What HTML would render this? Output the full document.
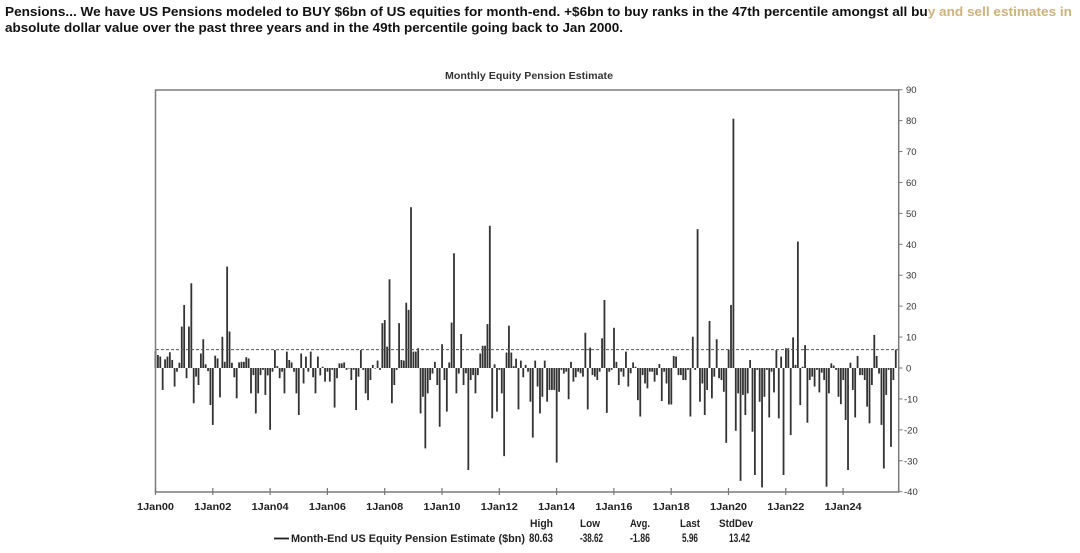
<!DOCTYPE html>
<html><head><meta charset="utf-8"><style>
html,body{margin:0;padding:0;background:#fff;}
svg{display:block;}
text{font-family:"Liberation Sans",Arial,sans-serif;}
</style></head><body>
<svg id="s" width="1080" height="553" viewBox="0 0 1080 553" xmlns="http://www.w3.org/2000/svg">
<rect width="1080" height="553" fill="#fff"/>
<text x="5" y="16" font-size="13" font-weight="bold" fill="#111" textLength="1067" lengthAdjust="spacingAndGlyphs">Pensions... We have US Pensions modeled to BUY $6bn of US equities for month-end. +$6bn to buy ranks in the 47th percentile amongst all bu<tspan fill="#cdb27a">y and sell estimates in</tspan></text>
<text x="5" y="32" font-size="13" font-weight="bold" fill="#111" textLength="618" lengthAdjust="spacingAndGlyphs">absolute dollar value over the past three years and in the 49th percentile going back to Jan 2000.</text>
<text x="445" y="79" font-size="10.5" font-weight="bold" fill="#333" textLength="168" lengthAdjust="spacingAndGlyphs">Monthly Equity Pension Estimate</text>
<g id="bars" fill="#333"></g>
<line x1="156" y1="349.6" x2="898" y2="349.6" stroke="#555" stroke-width="1" stroke-dasharray="3,2"/>
<rect x="155.5" y="90" width="743.2" height="402" fill="none" stroke="#7a7a7a" stroke-width="1.5"/>
<g id="yax" font-size="9.5" fill="#333"></g>
<g id="xax" font-size="10" font-weight="bold" fill="#222"></g>
<g font-size="11" font-weight="bold" fill="#222">
<text x="530" y="527" textLength="23" lengthAdjust="spacingAndGlyphs">High</text>
<text x="580" y="527" textLength="20" lengthAdjust="spacingAndGlyphs">Low</text>
<text x="630" y="527" textLength="20" lengthAdjust="spacingAndGlyphs">Avg.</text>
<text x="680" y="527" textLength="20" lengthAdjust="spacingAndGlyphs">Last</text>
<text x="719" y="527" textLength="34" lengthAdjust="spacingAndGlyphs">StdDev</text>
<line x1="274" y1="538.5" x2="289" y2="538.5" stroke="#222" stroke-width="1.8"/>
<text x="291" y="542" textLength="234" lengthAdjust="spacingAndGlyphs">Month-End US Equity Pension Estimate ($bn)</text>
<text x="529" y="542" font-size="11.5" textLength="24" lengthAdjust="spacingAndGlyphs">80.63</text>
<text x="580" y="542" font-size="11.5" textLength="23" lengthAdjust="spacingAndGlyphs">-38.62</text>
<text x="630" y="542" font-size="11.5" textLength="20" lengthAdjust="spacingAndGlyphs">-1.86</text>
<text x="682" y="542" font-size="11.5" textLength="16" lengthAdjust="spacingAndGlyphs">5.96</text>
<text x="729" y="542" font-size="11.5" textLength="21" lengthAdjust="spacingAndGlyphs">13.42</text>
</g>
</svg>
<script>
(function(){
var NS="http://www.w3.org/2000/svg";
function Y(v){return 368-v*3.092;}
var pts=[
[157.3,4.7],[159,4.2],[160.7,3.7],[162.3,-7.1],[165,2.8],[166.7,3.1],[168.3,3.7],[170,5.1],[172,2.6],[175,-6],[179.3,1.7],[182.3,13.4],[183.7,20.4],[186.7,-3.3],[189.3,13.4],[191.3,27.4],[193.7,-11.4],[196,-2.8],[198.3,-5.5],[200,4.7],[202.3,9.3],[207.3,-1],[210,-12],[212.3,-18.4],[215.3,4],[217,3.1],[219.3,-9.5],[221.7,10.1],[224.7,2],[227,32.8],[229,11.8],[231.3,1.7],[237,-9.8],[241.3,2],[243.3,2],[246,3.5],[248,3.1],[250.7,-8.2],[253.3,-2.3],[255.3,-14.7],[257.3,-8.2],[260,-2.3],[265,-8.7],[270,-20],[272.7,-1.2],[276,5.8],[279.3,-3.3],[284,-8.2],[286.7,5.3],[288.7,2.6],[293.3,-1.2],[295.7,-8.2],[298.3,-15.2],[300.7,4.7],[302.7,-5],[305.3,3.7],[308,5.6],[309.3,-1.2],[311.3,5.3],[314.7,-8.2],[317.3,3.7],[321.7,0.4],[324.3,-4.4],[326.7,-1.2],[329.3,-4.4],[331.7,-0.6],[333.7,-12.8],[336,-3.3],[338.3,3.7],
[340.5,1.5],[342.5,1.5],[346,-0.6],[350.7,-3.9],[352.7,-0.6],[355,-13.6],[357.3,-2.8],[360,5.8],[362.7,-0.6],[365,-6],[366.7,-8.2],[368.7,-10.4],[370,-3.9],[372,9.1],[374,1],[379.3,-0.6],[381.3,13.4],[383.3,14.5],[385.3,15.5],[386.7,6.9],[388.7,6.9],[390.7,28.7],[392.7,-11.4],[395,-5.5],[396.7,-0.6],[398.3,14.5],[400.7,2.6],[407.3,21.1],[409.3,18.8],[411.3,52],[413.3,5.3],[415.3,5.3],[417.3,11.8],[419.3,6.4],[421.7,-14.7],[423.3,-9.3],[426.3,-26],[428.3,-8.2],[430.7,-3.9],[436,2],[438.3,-5.5],[440.7,-19],[442.7,7.7],[445.3,-3.9],[447.3,-14.1],[452.7,14.7],[455,37.1],[457.3,-8.2],[460,11],[464,-5.5],[466.7,-1.7],[469.3,-33],[471.7,-3.9],[474,-2.3],[476,-8.2],[478,-2.3],[480.7,4.7],[482.7,7.2],[485,7.2],[487.3,14.2],[489.3,14.2],[490.7,46],[493.3,-16.3],[495.7,1.2],[498,-14.1],[500.7,-3.9],[502.7,-8.2],[504.7,-28.5],[507.3,5],[510,13.7],[512.3,5],[517.7,-3.9],[519.3,-13.4],[521.7,2.4],[525,1],[527.3,-1.2],[529.3,-10.9],
[531.7,-5],[533.3,-22.5],[537.3,-6],[539.3,-9.3],[541,-14.7],[543.3,-9.3],[545.3,2.4],[547.7,-10.9],[550,-7.1],[552,-7.1],[554,-7.1],[555.7,-30.6],[558,11.4],[560,-7.7],[562,-0.6],[567.3,-1.2],[569.3,-10.1],[571.7,2],[573.7,-4.4],[578.3,-1.2],[580.7,-1.7],[583.3,-2.8],[586,11.4],[588.7,-13.4],[591,6.6],[593.3,-2.3],[595.7,-2.8],[598,-3.9],[600,-1.2],[602.7,9.6],[605,22],[607.3,-14.5],[610,-1.2],[611.7,-0.6],[613.7,13],[615.3,2.6],[617,2],[619.3,-5.5],[621.7,-1.2],[624,-2.8],[626.7,5.3],[628.7,-6],[631,-1.7],[636,0.4],[638,-10.4],[640.7,-15.7],[643.3,-2.3],[645.3,-5],[648,-6.6],[652,-1.2],[654.3,-4.4],[657,-2.3],[659.3,1.3],[662,-10.7],[664.3,-1.2],[666.7,-5],[668.3,-11.8],[670.7,-11.8],[673.3,3.9],[675.7,3.7],[678.3,-2.3],[680.7,-2.3],[682.7,-3.9],[685,-6.6],[686.7,-3.9],[688.3,-0.6],[690.3,-15.7],[692.7,10.1],[695.7,-0.6],[697.7,44.9],[700,-10.9],[702.3,-5],[704,-15.2],[706.3,-7.1],[709.3,15.2],[712,-9.8],[714.3,-2.8],[716.7,9.3],[719,-3.3],
[721.7,-3.9],[724,-7.7],[726,-24.2],[728.3,6],[730.7,20.4],[733.3,80.63],[735.7,-20.3],[737.7,-8.2],[740.7,-36.5],[743,-8.7],[745,-15.2],[747.3,-8.2],[750,2.6],[752.3,-20.6],[755,-34.6],[757.7,-0.6],[759.3,-10.9],[761.7,-38.62],[764,-9.3],[766.7,-0.6],[769,-16],[771.7,-1.2],[774,-7.9],[776.3,5.8],[778.3,-16.3],[781,3.7],[783.3,-34.6],[785.7,6.4],[787.7,6.4],[790.3,-21.7],[793,9.9],[795.3,1],[798,40.9],[800,-12],[802.3,0.4],[804.3,7.4],[807,-17.7],[809.3,-3.9],[811.7,-2.8],[814,-6],[816.3,-0.6],[818.7,-7.9],[821,-1.5],[823.3,-3.9],[826,-38.4],[828.3,-8.2],[831,1.5],[833.7,0.8],[836.3,-0.6],[838.3,-9.3],[840.3,-11.7],[842.7,-3.9],[845,-16.8],[847.7,-33],[850,1.7],[852.7,-7.1],[854.7,-16],[857.3,3.9],[859.7,-2.3],[861.7,-2.3],[864.3,-3.9],[866.7,-12.5],[869,-17.9],[871.3,-5.5],[873.3,10.7],[875.7,36.6],[877.7,3.9],[880.3,-18.4],[883,-32.5],[885.3,-8.7],[887.7,-0.6],[890.3,-25.5],[892.7,-3.9],[895.5,5.96]
];
var N=311,vals=[];
for(var i=0;i<N;i++){vals.push((((i*37)%11)-5)*0.6);}
vals[0]=5.5;
pts.forEach(function(p){var idx=Math.round((p[0]-155.5)/2.388);if(idx>=0&&idx<N)vals[idx]=p[1];});
var g=document.getElementById("bars");
for(var i=0;i<N;i++){
  var v=vals[i],x=155.5+i*2.388-0.9,y0=Y(0),y1=Y(v);
  var r=document.createElementNS(NS,"rect");
  r.setAttribute("x",x.toFixed(2));r.setAttribute("width","1.8");
  r.setAttribute("y",Math.min(y0,y1).toFixed(2));
  r.setAttribute("height",Math.max(0.6,Math.abs(y1-y0)).toFixed(2));
  g.appendChild(r);
}
var ya=document.getElementById("yax");
for(var v=90;v>=-40;v-=10){
  var y=Y(v);
  var l=document.createElementNS(NS,"line");
  l.setAttribute("x1","898.7");l.setAttribute("x2","902.5");l.setAttribute("y1",y);l.setAttribute("y2",y);
  l.setAttribute("stroke","#777");l.setAttribute("stroke-width","1");ya.appendChild(l);
  var t=document.createElementNS(NS,"text");
  t.setAttribute("x",v<0?"904":"906");t.setAttribute("y",(y+3.5).toFixed(1));
  t.textContent=String(v);ya.appendChild(t);
}
var xa=document.getElementById("xax");
var labs=["1Jan00","1Jan02","1Jan04","1Jan06","1Jan08","1Jan10","1Jan12","1Jan14","1Jan16","1Jan18","1Jan20","1Jan22","1Jan24"];
labs.forEach(function(s,k){
  var x=155.5+k*57.3;
  var l=document.createElementNS(NS,"line");
  l.setAttribute("x1",x);l.setAttribute("x2",x);l.setAttribute("y1","488");l.setAttribute("y2","495");
  l.setAttribute("stroke","#777");l.setAttribute("stroke-width","1.2");xa.appendChild(l);
  var t=document.createElementNS(NS,"text");
  t.setAttribute("x",(x-18.5).toFixed(1));t.setAttribute("y","510");
  t.setAttribute("textLength","37");t.setAttribute("lengthAdjust","spacingAndGlyphs");
  t.textContent=s;xa.appendChild(t);
});
})();
</script>
</body></html>
